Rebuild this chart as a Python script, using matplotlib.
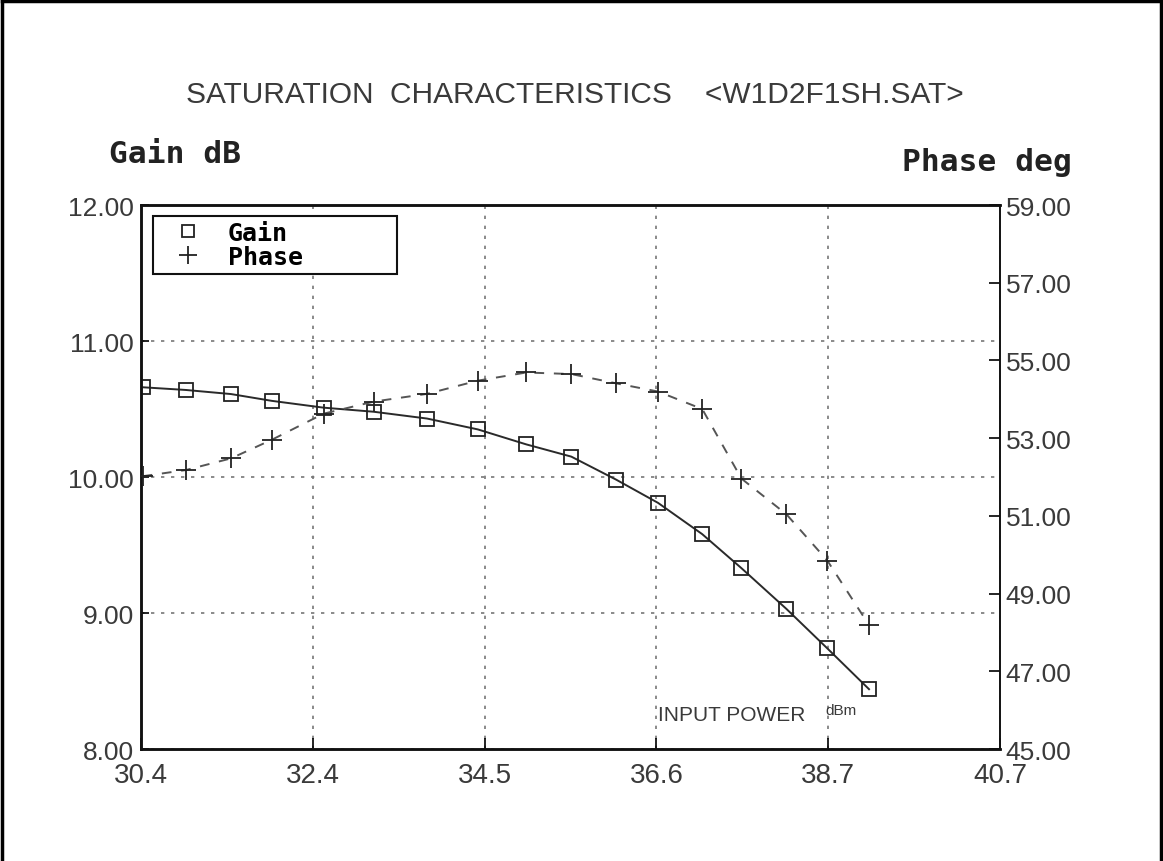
import matplotlib.pyplot as plt
from matplotlib import font_manager
from matplotlib.lines import Line2D
from matplotlib.transforms import ScaledTranslation

# data
input_power = [30.42, 30.94, 31.48, 31.97, 32.59, 33.19, 33.83, 34.44, 35.02,
               35.56, 36.10, 36.60, 37.13, 37.60, 38.14, 38.63, 39.13]
gain_db = [10.66, 10.64, 10.61, 10.56, 10.51, 10.48, 10.43, 10.35, 10.24,
           10.15, 9.98, 9.81, 9.58, 9.33, 9.03, 8.74, 8.44]
phase_deg = [52.02, 52.18, 52.48, 52.96, 53.63, 53.94, 54.14, 54.48, 54.69,
             54.65, 54.41, 54.20, 53.75, 51.96, 51.04, 49.85, 48.19]

x_min, x_max = 30.4, 40.7
x_tick_labels = ["30.4", "32.4", "34.5", "36.6", "38.7", "40.7"]
gain_ticks = [8, 9, 10, 11, 12]
phase_ticks = [45, 47, 49, 51, 53, 55, 57, 59]

installed = {f.name for f in font_manager.fontManager.ttflist}
thin = "Liberation Sans" if "Liberation Sans" in installed else "DejaVu Sans"
if "Liberation Sans Narrow" in installed:
    narrow, title_size = "Liberation Sans Narrow", 25
else:
    narrow, title_size = thin, 21.5
bold = "DejaVu Sans Mono"
ink = "#3a3a3a"

fig = plt.figure(figsize=(11.63, 8.62), dpi=100)
ax = fig.add_axes([0.1212, 0.1299, 0.7386, 0.6311])
ax2 = ax.twinx()

# curves
ax.plot(input_power, gain_db, color="#2a2a2a", lw=1.4, marker="s", ms=10,
        mfc="none", mec="#222222", mew=1.3, zorder=3)
ax2.plot(input_power, phase_deg, color="#555555", lw=1.4, ls=(0, (5, 5)),
         marker="+", ms=15, mec="#222222", mew=1.3, zorder=3)

# axes ranges and ticks
ax.set_xlim(x_min, x_max)
ax.set_ylim(gain_ticks[0], gain_ticks[-1])
ax2.set_ylim(phase_ticks[0], phase_ticks[-1])

step = (x_max - x_min) / (len(x_tick_labels) - 1)
ax.set_xticks([x_min + i * step for i in range(len(x_tick_labels))])
ax.set_xticklabels(x_tick_labels)
ax.set_yticks(gain_ticks)
ax.set_yticklabels([f"{v:.2f}" for v in gain_ticks])
ax2.set_yticks(phase_ticks)
ax2.set_yticklabels([f"{v:.2f}" for v in phase_ticks])

lift = ScaledTranslation(0, 3 / 72, fig.dpi_scale_trans)
for lab in ax.get_xticklabels():
    lab.set_fontfamily(thin)
    lab.set_fontsize(20)
    lab.set_color(ink)
for lab in ax.get_yticklabels() + ax2.get_yticklabels():
    lab.set_fontfamily(thin)
    lab.set_fontsize(19)
    lab.set_color(ink)
    lab.set_transform(lab.get_transform() + lift)

ax.tick_params(axis="x", direction="in", length=8, width=1.2, pad=9)
ax.tick_params(axis="y", direction="in", length=6, width=1.2, pad=5)
ax2.tick_params(axis="y", direction="in", length=8, width=1.2, pad=4)

ax.grid(True, color="#777777", lw=1.2, ls=(0, (2, 4)))

for a in (ax, ax2):
    for side in ("left", "bottom", "top"):
        a.spines[side].set_linewidth(1.8)
        a.spines[side].set_color("#111111")
    a.spines["right"].set_linewidth(1.2)
    a.spines["right"].set_color("#111111")

# legend
handles = [
    Line2D([], [], ls="none", marker="s", ms=9, mfc="none", mec="#222222", mew=1.3),
    Line2D([], [], ls="none", marker="+", ms=13, mec="#222222", mew=1.3),
]
leg = ax.legend(handles, ["Gain", "Phase"], loc="upper left",
                bbox_to_anchor=(0.014, 0.0, 0.284, 0.98), mode="expand",
                prop={"family": bold, "weight": "bold", "size": 18},
                frameon=True, fancybox=False, edgecolor="#111111",
                framealpha=1, borderpad=0.2, labelspacing=0.0,
                handlelength=2.4, handletextpad=0.4, borderaxespad=0)
leg.get_frame().set_linewidth(1.5)
leg.set_zorder(5)

# titles and axis captions
fig.text(0.494, 0.890, "SATURATION  CHARACTERISTICS    <W1D2F1SH.SAT>",
         ha="center", va="center", fontsize=title_size, family=narrow, color=ink)
fig.text(0.094, 0.821, "Gain dB", ha="left", va="center", fontsize=22.5,
         family=bold, weight="bold", color="#222222")
fig.text(0.922, 0.812, "Phase deg", ha="right", va="center", fontsize=22.5,
         family=bold, weight="bold", color="#222222")
ax.text(0.602, 0.064, "INPUT POWER", transform=ax.transAxes, ha="left",
        va="center", fontsize=15, family=narrow, color=ink)
ax.text(0.797, 0.072, "dBm", transform=ax.transAxes, ha="left",
        va="center", fontsize=11, family=thin, color=ink)

# scanned page frame (left, top, right)
for xs, ys in (([0.002, 0.002], [0.0, 0.998]),
               ([0.002, 0.998], [0.998, 0.998]),
               ([0.998, 0.998], [0.998, 0.0])):
    fig.add_artist(Line2D(xs, ys, transform=fig.transFigure,
                          color="black", lw=2.5))

fig.savefig("out.png", dpi=100)
